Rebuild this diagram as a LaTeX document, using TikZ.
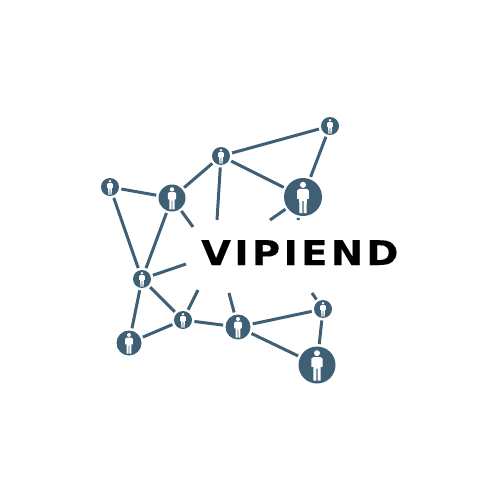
\documentclass[tikz,border=0pt]{standalone}
\usepackage{fontspec}
\newfontfamily\logofont[LetterSpace=10,FakeStretch=1.13,FakeBold=0.3]{DejaVu Sans Bold}
\definecolor{hubblue}{HTML}{3F5F75}
\newcommand{\hubperson}[4]{%
  \node[hub,minimum size=#4*2pt] (#1) at (#2,#3) {};
  \begin{scope}[shift={(#2,#3)},x=#4pt,y=#4pt]
    \fill[white] (0,0.64) circle[radius=0.16];
    \fill[white]
      (-0.2,0.43) -- (0.2,0.43) -- (0.31,0.33) -- (0.31,-0.1) -- (0.2,-0.1) -- (0.19,-0.85) -- (0.03,-0.85) -- (0.03,-0.2)
      -- (-0.03,-0.2) -- (-0.03,-0.85) -- (-0.19,-0.85) -- (-0.2,-0.1) -- (-0.31,-0.1) -- (-0.31,0.33) -- cycle;
  \end{scope}
}
\tikzset{
  hub/.style={circle,fill=hubblue,draw=none,inner sep=0pt,outer sep=2.5pt},
  link/.style={draw=hubblue,line width=3pt},
  logo/.style={font=\logofont\fontsize{34}{34}\selectfont,text=black,inner sep=0pt,anchor=base west}
}
\begin{document}
\begin{tikzpicture}[x=1pt,y=-1pt]
\useasboundingbox (0,0) rectangle (500,500);
\hubperson{a}{330}{126}{9}
\hubperson{b}{221}{156}{9}
\hubperson{c}{303}{197}{19}
\hubperson{d}{110}{187}{9}
\hubperson{e}{172}{198}{13.5}
\hubperson{f}{142}{279}{9}
\hubperson{g}{183}{320}{9}
\hubperson{h}{238}{327}{12.5}
\hubperson{i}{323}{309}{9}
\hubperson{j}{129}{343}{12.5}
\hubperson{k}{317}{365}{18.5}
\coordinate (x1) at (217,220);
\coordinate (x2) at (193,227);
\coordinate (x3) at (270,220);
\coordinate (x4) at (298,220);
\coordinate (x5) at (186,264);
\coordinate (x6) at (198,290);
\coordinate (x7) at (229,293);
\coordinate (x8) at (312,293);
\foreach \p/\q in {a/b,a/c,b/c,b/e,d/e,d/f,e/f,f/g,f/j,g/j,g/h,h/i,h/k,i/k,
  b/x1,e/x2,c/x3,c/x4,f/x5,g/x6,h/x7,i/x8}
  \draw[link] (\p) -- (\q);
\node[logo] (t) at (201,265) {VIPIEND};
\end{tikzpicture}
\end{document}
